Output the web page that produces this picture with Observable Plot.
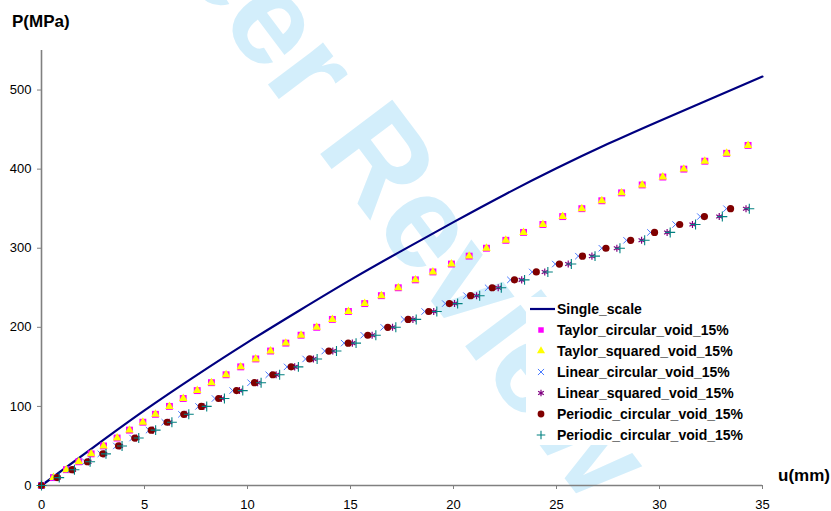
<!DOCTYPE html>
<html>
<head>
<meta charset="utf-8">
<script src="https://cdn.jsdelivr.net/npm/d3@7"></script>
<script src="https://cdn.jsdelivr.net/npm/@observablehq/plot@0.6"></script>
<style>
  html, body { margin: 0; padding: 0; background: white; }
  #chart { width: 831px; height: 511px; }
</style>
</head>
<body>
<div id="chart"></div>
<script>
// ---- Data ----
const seriesNames = [
  "Single_scale",
  "Taylor_circular_void_15%",
  "Taylor_squared_void_15%",
  "Linear_circular_void_15%",
  "Linear_squared_void_15%",
  "Periodic_circular_void_15%",
  "Periodic_circular_void_15%"
];
const xTicks = [0, 5, 10, 15, 20, 25, 30, 35];
const yTicks = [0, 100, 200, 300, 400, 500];

// Single scale (line)
const singleU = [0, 2.5, 5, 7.5, 10, 12.5, 15, 17.5, 20, 22.5, 25, 27.5, 30, 32.5, 35];
const singleP = [0, 48, 95, 139, 181, 221, 260, 297, 333, 368, 401, 432, 461, 489, 517];

// Taylor series (P in steps of 10 MPa)
const taylorP = [0,10,20,30,40,50,60,70,80,90,100,110,120,130,140,150,160,170,180,190,200,
  210,220,230,240,250,260,270,280,290,300,310,320,330,340,350,360,370,380,390,400,410,420,430];
const taylorCircularU = [0,0.58,1.21,1.81,2.41,3.01,3.67,4.27,4.92,5.53,6.21,6.88,7.56,8.25,8.96,9.67,
  10.40,11.12,11.86,12.60,13.36,14.12,14.90,15.69,16.50,17.32,18.15,19.00,19.90,20.76,21.60,
  22.54,23.40,24.34,25.30,26.23,27.20,28.16,29.16,30.16,31.18,32.20,33.26,34.30];
const taylorSquaredU = [0,0.58,1.21,1.81,2.41,3.01,3.67,4.27,4.92,5.53,6.21,6.88,7.56,8.25,8.96,9.67,
  10.40,11.12,11.86,12.60,13.36,14.12,14.90,15.69,16.50,17.32,18.15,19.00,19.90,20.76,21.60,
  22.54,23.40,24.34,25.30,26.23,27.20,28.16,29.16,30.16,31.18,32.20,33.26,34.30];

// Linear / Periodic series
const lowerP = [0,10,20,30,40,50,60,70,80,90,100,110,120,130,140,150,160,170,180,190,200,
  210,220,230,240,250,260,270,280,290,300,310,320,330,340,350];
const linearCircularU = [0,0.68,1.40,2.13,2.88,3.63,4.42,5.22,5.98,6.79,7.62,8.42,9.28,10.15,11.03,
  11.92,12.82,13.75,14.69,15.64,16.61,17.60,18.60,19.60,20.63,21.68,22.76,23.82,24.94,26.06,
  27.20,28.40,29.56,30.78,31.98,33.25];
const linearSquaredU = [0,0.79,1.53,2.28,3.04,3.81,4.61,5.42,6.20,7.02,7.88,8.73,9.61,10.49,11.39,
  12.29,13.20,14.14,15.09,16.05,17.04,18.03,19.04,20.05,21.12,22.17,23.31,24.43,25.57,26.72,
  27.93,29.13,30.37,31.60,32.90,34.20];
const periodicCircularU = [0,0.76,1.49,2.23,2.98,3.74,4.53,5.33,6.10,6.91,7.76,8.60,9.47,10.34,11.23,
  12.12,13.02,13.95,14.89,15.84,16.81,17.80,18.80,19.80,20.83,21.88,22.96,24.02,25.14,26.26,
  27.40,28.60,29.76,30.98,32.18,33.45];
const periodicCircular2U = [0,0.86,1.60,2.36,3.13,3.91,4.72,5.54,6.33,7.15,8.02,8.88,9.77,10.66,11.56,
  12.47,13.38,14.32,15.27,16.23,17.20,18.19,19.19,20.20,21.27,22.32,23.45,24.58,25.72,26.87,
  28.08,29.28,30.52,31.75,33.05,34.36];

// ---- Tables built from the arrays ----
const zip = (us, ps) => us.map((u, i) => ({u, p: ps[i]}));
const single = zip(singleU, singleP);
const taylorC = zip(taylorCircularU, taylorP);
const taylorS = zip(taylorSquaredU, taylorP);
const linC = zip(linearCircularU, lowerP);
const linS = zip(linearSquaredU, lowerP);
const perC = zip(periodicCircularU, lowerP);
const perC2 = zip(periodicCircular2U, lowerP);

const FONT = "'Liberation Sans', Arial, Helvetica, sans-serif";
const AXIS = "#808080";

const chart = Plot.plot({
  width: 831,
  height: 511,
  marginLeft: 41,
  marginRight: 69,
  marginTop: 50,
  marginBottom: 26,
  style: {fontFamily: FONT, fontSize: "13px", background: "white", color: "black", overflow: "visible"},
  x: {domain: [0, 35]},
  y: {domain: [0, 550]},
  marks: [
    Plot.axisX({ticks: xTicks, tickSize: 4, tickPadding: 10, stroke: AXIS, fill: "black", label: null, tickFormat: d => String(d)}),
    Plot.axisY({ticks: yTicks, tickSize: 4, tickPadding: 6, stroke: AXIS, fill: "black", label: null, tickFormat: d => String(d)}),
    Plot.ruleY([0], {stroke: AXIS, strokeWidth: 1.6}),
    Plot.ruleX([0], {stroke: AXIS, strokeWidth: 1.6}),
    Plot.line(single, {x: "u", y: "p", stroke: "#000080", strokeWidth: 2.2, curve: "natural"}),
    Plot.dot(taylorC, {x: "u", y: "p", symbol: "square", fill: "#FF00FF", r: 3.9}),
    Plot.dot(taylorS, {x: "u", y: "p", symbol: "triangle", fill: "#FFFF00", r: 3.2}),
    Plot.dot(linC, {x: "u", y: "p", symbol: "times", stroke: "#4A7BFF", fill: "none", r: 3.0, strokeWidth: 1}),
    Plot.dot(linS, {x: "u", y: "p", symbol: "asterisk", stroke: "#800080", fill: "none", r: 3.3, strokeWidth: 1.2}),
    Plot.dot(perC, {x: "u", y: "p", symbol: "circle", fill: "#800000", r: 3.6}),
    Plot.dot(perC2, {x: "u", y: "p", symbol: "plus", stroke: "#008080", fill: "none", r: 3.3, strokeWidth: 1.1})
  ]
});

document.getElementById("chart").appendChild(chart);

const svg = d3.select(chart);

// Watermark behind everything
const wm = svg.insert("g", ":first-child")
  .attr("transform", "translate(315,147) rotate(53)")
  .attr("fill", "#D3EEFB")
  .style("font-family", FONT)
  .style("font-weight", "bold")
  .style("font-size", "131px");
wm.append("text").attr("text-anchor", "end").attr("dx", "-0.278em").text("For Peer");
wm.append("text").attr("text-anchor", "start").text("Review");
svg.insert("rect", ":first-child").attr("width", 831).attr("height", 511).attr("fill", "white");

// Axis titles
svg.append("text").attr("x", 12).attr("y", 27).attr("text-anchor", "start")
  .style("font-family", FONT).style("font-weight", "bold").style("font-size", "17px")
  .attr("fill", "black").text("P(MPa)");
svg.append("text").attr("x", 778).attr("y", 481).attr("text-anchor", "start")
  .style("font-family", FONT).style("font-weight", "bold").style("font-size", "17px")
  .attr("fill", "black").text("u(mm)");

// Legend
const lg = svg.append("g");
lg.append("rect").attr("x", 526).attr("y", 297).attr("width", 226).attr("height", 148).attr("fill", "white");
const rowY = i => 309 + 21 * i;
const mx = 541;
const sym = (type, size) => d3.symbol().type(type).size(size)();
seriesNames.forEach((name, i) => {
  const y = rowY(i);
  const g = lg.append("g");
  if (i === 0) {
    g.append("line").attr("x1", 530).attr("x2", 555).attr("y1", y).attr("y2", y)
      .attr("stroke", "#000080").attr("stroke-width", 2.2);
  } else if (i === 1) {
    g.append("path").attr("d", sym(d3.symbolSquare, 30)).attr("transform", `translate(${mx},${y})`).attr("fill", "#FF00FF");
  } else if (i === 2) {
    g.append("path").attr("d", sym(d3.symbolTriangle, 28)).attr("transform", `translate(${mx},${y})`).attr("fill", "#FFFF00");
  } else if (i === 3) {
    g.append("path").attr("d", sym(d3.symbolTimes, 26)).attr("transform", `translate(${mx},${y})`).attr("fill", "none").attr("stroke", "#4A7BFF").attr("stroke-width", 1);
  } else if (i === 4) {
    g.append("path").attr("d", sym(d3.symbolAsterisk, 30)).attr("transform", `translate(${mx},${y})`).attr("fill", "none").attr("stroke", "#800080").attr("stroke-width", 1.2);
  } else if (i === 5) {
    g.append("circle").attr("cx", mx).attr("cy", y).attr("r", 3.4).attr("fill", "#800000");
  } else {
    g.append("path").attr("d", sym(d3.symbolPlus, 26)).attr("transform", `translate(${mx},${y})`).attr("fill", "none").attr("stroke", "#008080").attr("stroke-width", 1.1);
  }
  g.append("text").attr("x", 557).attr("y", y + 5).attr("text-anchor", "start")
    .style("font-family", FONT).style("font-weight", "bold").style("font-size", "14px")
    .attr("fill", "black").text(name);
});
</script>
</body>
</html>
